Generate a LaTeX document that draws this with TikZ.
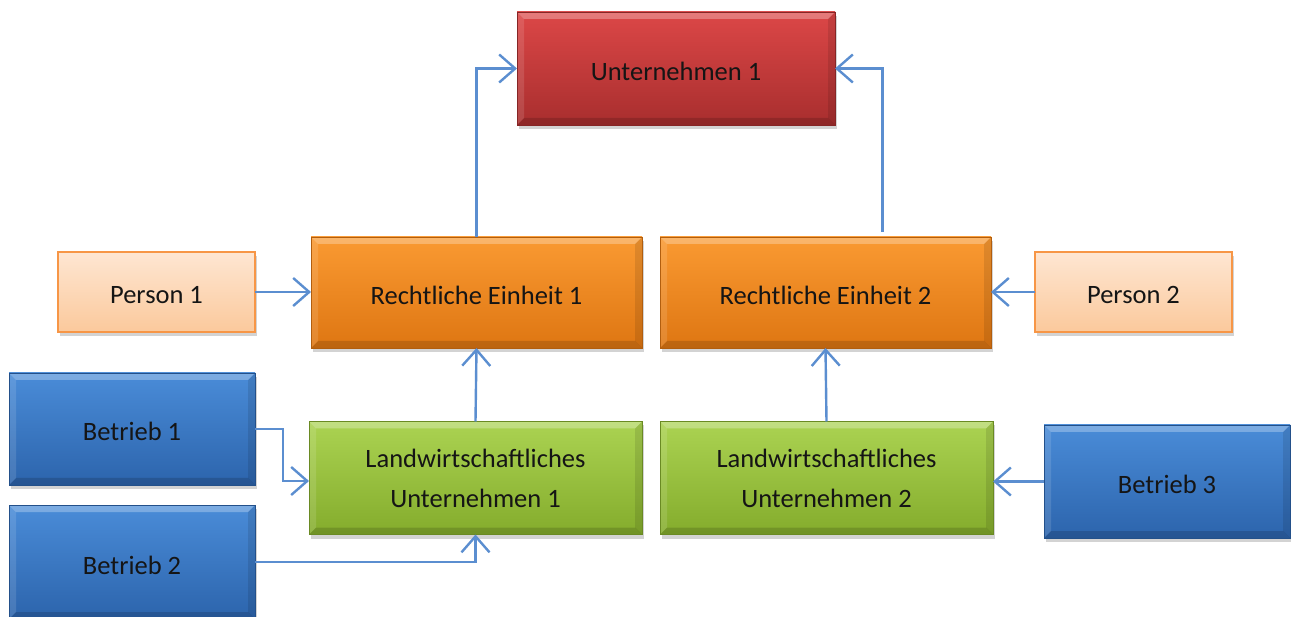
\documentclass[tikz,border=0pt]{standalone}
\usepackage{fontspec}
\setmainfont{Carlito}
\usetikzlibrary{arrows.meta,shadows}
\definecolor{redT}{HTML}{DC4747}
\definecolor{redB}{HTML}{A82E2E}
\definecolor{orT}{HTML}{FA9A32}
\definecolor{orB}{HTML}{DE7612}
\definecolor{peT}{HTML}{FEE6D2}
\definecolor{peB}{HTML}{FBC99C}
\definecolor{peD}{HTML}{F79646}
\definecolor{grT}{HTML}{ABD352}
\definecolor{grB}{HTML}{84AC2C}
\definecolor{blT}{HTML}{4A8CD8}
\definecolor{blB}{HTML}{2C64AC}
\definecolor{arr}{HTML}{5B8ED0}
\definecolor{txt}{HTML}{151515}
\tikzset{
  box/.style={rectangle, inner sep=0pt, outer sep=0pt, align=center,
    text=txt, font=\fontsize{26.5}{40}\selectfont,
    drop shadow={opacity=0.35, shadow xshift=2pt, shadow yshift=-4pt}},
  oneline/.style={text height=24pt, text depth=0pt},
  bevel/.style={path picture={
    \fill[white,opacity=0.28] (path picture bounding box.north west) -- (path picture bounding box.north east)
      -- ([xshift=-7pt,yshift=-7pt]path picture bounding box.north east) -- ([xshift=7pt,yshift=-7pt]path picture bounding box.north west) -- cycle;
    \fill[white,opacity=0.12] (path picture bounding box.north west) -- ([xshift=7pt,yshift=-7pt]path picture bounding box.north west)
      -- ([xshift=7pt,yshift=7pt]path picture bounding box.south west) -- (path picture bounding box.south west) -- cycle;
    \fill[black,opacity=0.1] (path picture bounding box.north east) -- ([xshift=-7pt,yshift=-7pt]path picture bounding box.north east)
      -- ([xshift=-7pt,yshift=7pt]path picture bounding box.south east) -- (path picture bounding box.south east) -- cycle;
    \fill[black,opacity=0.15] (path picture bounding box.south west) -- (path picture bounding box.south east)
      -- ([xshift=-7pt,yshift=7pt]path picture bounding box.south east) -- ([xshift=7pt,yshift=7pt]path picture bounding box.south west) -- cycle;
  }},
  redbox/.style={box, bevel, top color=redT, bottom color=redB, draw=redB!80!black, line width=0.6pt},
  orbox/.style={box, bevel, top color=orT, bottom color=orB, draw=orB!80!black, line width=0.6pt},
  pebox/.style={box, top color=peT, bottom color=peB, draw=peD, line width=2pt},
  grbox/.style={box, bevel, top color=grT, bottom color=grB, draw=grB!80!black, line width=0.6pt},
  blbox/.style={box, bevel, top color=blT, bottom color=blB, draw=blB!80!black, line width=0.6pt},
  conn/.style={draw=arr, line width=2.4pt, -{Straight Barb[length=16pt,width=28pt,line width=2.4pt]}}
}
\begin{document}
\begin{tikzpicture}[x=1pt,y=-1pt]
\useasboundingbox (0,0) rectangle (1291,617);
\node[redbox, oneline, minimum width=318pt, minimum height=113pt] (u) at (676,68.5) {Unternehmen 1};
\node[pebox, oneline, minimum width=197pt, minimum height=80pt] (p1) at (156.5,292) {Person 1};
\node[orbox, oneline, minimum width=331pt, minimum height=111pt] (re1) at (476.5,292.5) {Rechtliche Einheit 1};
\node[orbox, oneline, minimum width=331pt, minimum height=111pt] (re2) at (825.5,292.5) {Rechtliche Einheit 2};
\node[pebox, oneline, minimum width=197pt, minimum height=80pt] (p2) at (1133.5,292) {Person 2};
\node[blbox, oneline, minimum width=246pt, minimum height=112pt] (b1) at (132,429) {Betrieb 1};
\node[blbox, oneline, minimum width=246pt, minimum height=114pt] (b2) at (132,562) {Betrieb 2};
\node[grbox, minimum width=333pt, minimum height=113pt] (lu1) at (475.5,478) {Landwirtschaftliches\\Unternehmen 1};
\node[grbox, minimum width=333pt, minimum height=113pt] (lu2) at (826.5,478) {Landwirtschaftliches\\Unternehmen 2};
\node[blbox, oneline, minimum width=246pt, minimum height=113pt] (b3) at (1167,481.5) {Betrieb 3};

\draw[conn] (re1.north) |- (u.west);
\draw[conn] ([xshift=57pt,yshift=5pt]re2.north) |- (u.east);
\draw[conn] (p1.east) -- (p1.east -| re1.west);
\draw[conn] (p2.west) -- (p2.west -| re2.east);
\draw[conn] (lu1.north) -- (re1.south);
\draw[conn] (lu2.north) -- (re2.south);
\draw[conn] (b1.east) -- ++(28,0) |- ([yshift=-3pt]lu1.west);
\draw[conn] (b2.east) -| (lu1.south);
\draw[conn] (b3.west) -- (b3.west -| lu2.east);
\end{tikzpicture}
\end{document}
